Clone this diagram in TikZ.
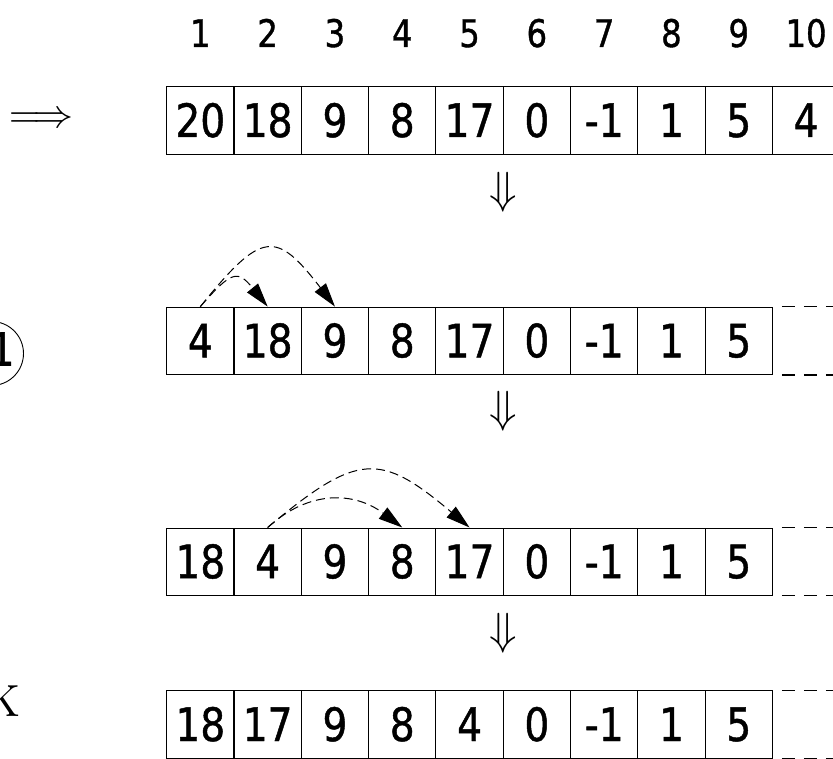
\documentclass[tikz,border=0pt]{standalone}
\usepackage{fontspec}
\usepackage{graphicx}
\newfontfamily\digitfont[FakeStretch=0.85,FakeBold=1]{DejaVu Sans}
\usetikzlibrary{arrows.meta}
\begin{document}
\begin{tikzpicture}[x=1pt,y=-1pt,
  cell/.style={draw, line width=1.1pt, minimum width=67.3pt, minimum height=67.3pt, inner sep=0pt,
    font=\digitfont\fontsize{46}{46}\selectfont, text height=33pt, text depth=0pt},
  idx/.style={font=\digitfont\fontsize{38}{38}\selectfont, inner sep=0pt, text height=27pt, text depth=0pt},
  hop/.style={dash pattern=on 9pt off 5pt, line width=1pt, -{Triangle[length=24pt,width=14pt]}},
  openend/.style={dash pattern=on 13pt off 9pt, dash phase=13pt, line width=1.1pt},
  dn/.style={inner sep=0pt}]
\useasboundingbox (0,0) rectangle (833,759);

% index labels
\foreach \i in {1,...,10} {
  \node[idx] (ix\i) at ({200.35+(\i-1)*67.3},33.5) {\i};
}
% row 1
\foreach \v [count=\i] in {20,18,9,8,17,0,-1,1,5,4} {
  \node[cell] (r1c\i) at ({200.35+(\i-1)*67.3},120.5) {\v};
}
% row 2
\foreach \v [count=\i] in {4,18,9,8,17,0,-1,1,5} {
  \node[cell] (r2c\i) at ({200.35+(\i-1)*67.3},340.8) {\v};
}
% row 3
\foreach \v [count=\i] in {18,4,9,8,17,0,-1,1,5} {
  \node[cell] (r3c\i) at ({200.35+(\i-1)*67.3},561.7) {\v};
}
% row 4
\foreach \v [count=\i] in {18,17,9,8,4,0,-1,1,5} {
  \node[cell] (r4c\i) at ({200.35+(\i-1)*67.3},724.5) {\v};
}

% open (dashed) ends
\foreach \r in {2,3,4} {
  \path (r\r c9.north east) ++(70,0) coordinate (e\r t);
  \path (r\r c9.south east) ++(70,0) coordinate (e\r b);
  \draw[openend] (r\r c9.north east) -- (e\r t);
  \draw[openend] (r\r c9.south east) -- (e\r b);
}

% arcs
\draw[hop] (r2c1.north) .. controls (262,230) and (276,230) .. (r2c3.north);
\draw[hop] (r2c1.north) .. controls (232,270) and (238,270) .. (r2c2.north);
\draw[hop] (r3c2.north) .. controls (358,452) and (380,452) .. (r3c5.north);
\draw[hop] (r3c2.north) .. controls (310,489) and (355,492) .. (r3c4.north);

% down arrows
\node[dn] (d1) at (503,192) {\scalebox{4.5}{$\Downarrow$}};
\node[dn] (d2) at (503,411.5) {\scalebox{4.5}{$\Downarrow$}};
\node[dn] (d3) at (503,633) {\scalebox{4.5}{$\Downarrow$}};

% left side fragments
\node[inner sep=0pt] (imp) at (41,120) {\scalebox{4}{$\Longrightarrow$}};
\node[draw, circle, minimum size=64pt, line width=0.9pt, inner sep=0pt] (circ) at (-8.5,353.5) {};
\node[font=\digitfont\fontsize{46}{46}\selectfont, inner sep=0pt] (one) at (2,349) {1};
\node[anchor=base east, inner sep=0pt] (kk) at (21,716) {\scalebox{4.5}{K}};
\end{tikzpicture}
\end{document}
